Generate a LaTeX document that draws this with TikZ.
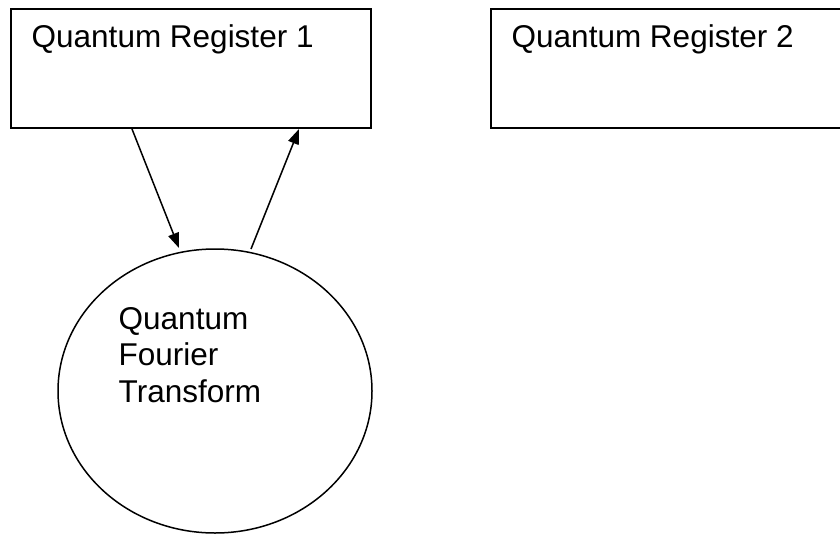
\documentclass[tikz,border=0pt]{standalone}
\usepackage{fontspec}
\setmainfont{Liberation Sans}
\usetikzlibrary{arrows.meta,shapes.geometric}
\begin{document}
\begin{tikzpicture}[x=1pt,y=-1pt,
  regbox/.style={draw, line width=2.4pt, rectangle, minimum width=360pt, minimum height=119pt, inner sep=0pt},
  qftell/.style={draw, line width=1.5pt, ellipse, minimum width=314pt, minimum height=284pt, inner sep=0pt},
  lbl/.style={anchor=base west, inner sep=0pt, font=\fontsize{31.5pt}{36.5pt}\selectfont},
  conn/.style={line width=1.5pt, -{Triangle[length=15pt,width=11pt]}}]
\useasboundingbox (0,0) rectangle (840,535);
\clip (0,0) rectangle (840,535);
\fill[white] (0,0) rectangle (840,535);
\node[regbox] (r1) at (191,68.5) {};
\node[regbox] (r2) at (671,68.5) {};
\node[qftell] (qft) at (215,391) {};
\node[lbl] (t1) at (31.5,48) {Quantum Register 1};
\node[lbl] (t2) at (511.5,48) {Quantum Register 2};
\node[lbl, align=left] (t3) at (118.5,402) {Quantum\\Fourier\\Transform};
\coordinate (a1s) at (132,129);
\coordinate (a1e) at (179,248);
\coordinate (a2s) at (251,249);
\coordinate (a2e) at (299,129);
\draw[conn] (a1s) -- (a1e);
\draw[conn] (a2s) -- (a2e);
\end{tikzpicture}
\end{document}
